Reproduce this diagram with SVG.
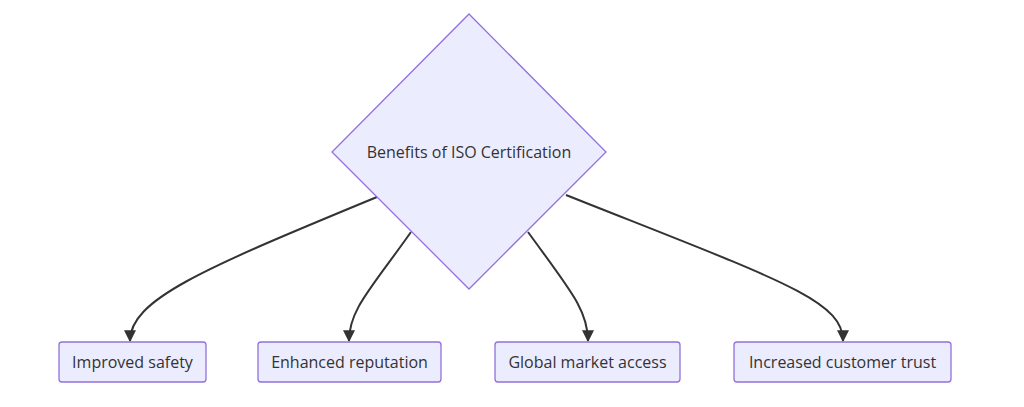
<svg xmlns="http://www.w3.org/2000/svg" width="1024" height="407" viewBox="0 0 1024 407">
<style>
.n{fill:#ECECFF;stroke:#9370DB;stroke-width:1.3}
.t{font-family:"Open Sans",sans-serif;font-size:16px;fill:#333;text-anchor:middle;dominant-baseline:central}
.e{fill:none;stroke:#333;stroke-width:2;marker-end:url(#a)}
</style>
<defs><marker id="a" viewBox="0 0 10 10" refX="9" refY="5" markerWidth="6" markerHeight="6" orient="auto" markerUnits="strokeWidth"><path d="M0,0L10,5L0,10z" fill="#333"/></marker></defs>
<rect width="1024" height="407" fill="#fff"/>
<g id="edges">
<path class="e" d="M377,197C200,270 130,300 130,341"/>
<path class="e" d="M411,232C370,290 349,310 349,341"/>
<path class="e" d="M528,232C570,290 588,310 588,341"/>
<path class="e" d="M566,195C780,280 843,300 843,341"/>
</g>
<g id="root"><polygon class="n" points="469,14 606,152 469,289 332,152"/><text class="t" x="469" y="152">Benefits of ISO Certification</text></g>
<g id="n1"><rect class="n" x="59" y="342" width="147" height="40" rx="3"/><text class="t" x="132.5" y="362">Improved safety</text></g>
<g id="n2"><rect class="n" x="258" y="342" width="183" height="40" rx="3"/><text class="t" x="349.5" y="362">Enhanced reputation</text></g>
<g id="n3"><rect class="n" x="495" y="342" width="185" height="40" rx="3"/><text class="t" x="587.5" y="362">Global market access</text></g>
<g id="n4"><rect class="n" x="734" y="342" width="217" height="40" rx="3"/><text class="t" x="842.5" y="362">Increased customer trust</text></g>
</svg>
